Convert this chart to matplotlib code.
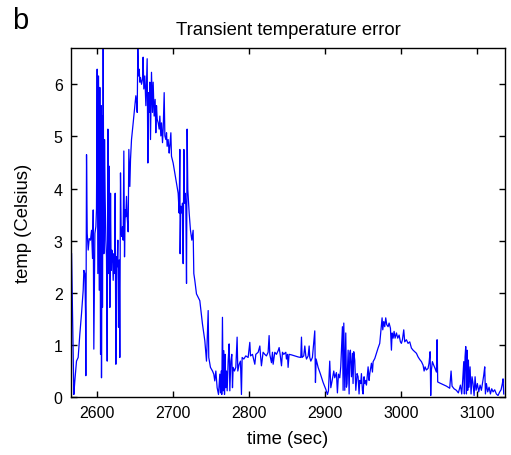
import matplotlib
matplotlib.use("Agg")
import matplotlib.pyplot as plt

# --- donnees ---
# partie 1 : montee bruitee et pic (2566 - 2736 s)
t_rise = [2566.7, 2569.7, 2571.0, 2573.2, 2575.4, 2577.6, 2579.8, 2582.0, 2582.9, 2584.2,
          2585.1, 2585.5, 2586.4, 2587.3, 2588.6, 2589.9, 2591.6, 2593.0, 2594.3, 2595.2,
          2596.0, 2597.4, 2598.7, 2599.5, 2600.4, 2601.3, 2602.2, 2603.1, 2603.9, 2604.8,
          2605.7, 2606.1, 2607.0, 2607.4, 2608.3, 2609.2, 2610.1, 2610.9, 2611.8, 2612.7,
          2613.6, 2614.5, 2615.3, 2616.2, 2617.1, 2618.0, 2618.8, 2619.7, 2620.6, 2621.5,
          2622.4, 2623.2, 2624.1, 2625.0, 2625.9, 2626.7, 2627.6, 2628.5, 2629.4, 2630.2,
          2631.1, 2632.0, 2632.9, 2633.8, 2634.6, 2635.5, 2636.4, 2637.3, 2638.1, 2639.0,
          2639.9, 2641.2, 2642.1, 2643.4, 2644.3, 2645.6, 2646.9, 2647.8, 2648.7, 2650.0,
          2651.3, 2652.2, 2653.1, 2653.9, 2654.8, 2655.7, 2656.6, 2657.4, 2658.8, 2660.1,
          2660.9, 2661.8, 2663.1, 2664.5, 2666.2, 2667.1, 2668.0, 2668.8, 2669.7, 2670.6,
          2671.9, 2673.2, 2674.1, 2675.4, 2676.7, 2677.6, 2678.5, 2679.4, 2680.7, 2682.0,
          2682.9, 2684.2, 2685.1, 2686.4, 2687.3, 2688.6, 2689.5, 2690.8, 2691.7, 2692.5,
          2693.8, 2695.2, 2696.0, 2697.4, 2698.2, 2700.4, 2702.6, 2704.8, 2707.0, 2708.3,
          2709.2, 2709.6, 2710.5, 2711.8, 2712.7, 2713.6, 2714.5, 2715.3, 2716.2, 2717.1,
          2718.0, 2718.8, 2719.7, 2721.5, 2723.2, 2725.0, 2726.7, 2727.6, 2728.9, 2731.1]
temp_rise = [2.75, 0.05, 0.31, 0.69, 0.76, 1.21, 1.60, 2.05, 2.43, 2.37,
             1.60, 0.41, 4.65, 3.14, 2.82, 3.04, 3.01, 3.20, 2.66, 3.59,
             0.92, 3.14, 3.27, 3.59, 6.29, 2.37, 6.16, 2.05, 5.94, 0.82,
             5.59, 0.37, 5.39, 1.72, 6.68, 2.75, 4.94, 3.85, 3.01, 2.69,
             0.69, 5.14, 2.37, 4.43, 1.72, 3.91, 2.43, 2.82, 2.69, 2.24,
             2.75, 2.37, 3.91, 0.63, 2.69, 2.50, 3.01, 1.34, 2.63, 0.76,
             4.30, 3.14, 3.08, 3.27, 3.01, 4.72, 2.69, 3.59, 3.46, 3.85,
             3.46, 3.17, 4.75, 4.04, 4.56, 4.94, 5.14, 5.26, 5.39, 5.59,
             5.78, 5.65, 5.46, 6.68, 6.16, 6.29, 6.04, 6.13, 6.00, 6.10,
             6.52, 5.91, 6.16, 5.59, 6.49, 4.49, 5.84, 5.46, 6.04, 4.94,
             6.23, 5.46, 6.04, 5.39, 5.71, 5.07, 5.59, 5.33, 5.26, 5.14,
             5.39, 5.01, 5.26, 4.88, 5.14, 5.84, 5.01, 4.94, 5.07, 4.81,
             4.94, 4.68, 4.81, 5.07, 4.62, 4.49, 4.30, 4.11, 3.91, 3.53,
             4.75, 2.75, 3.66, 3.53, 3.72, 2.56, 4.75, 3.72, 3.91, 3.66,
             2.18, 5.14, 3.98, 3.53, 3.20, 3.01, 3.20, 2.37, 2.24, 1.98]

# partie 2 : chute et plateau (2735 - 2920 s)
t_mid = [2735.5, 2739.0, 2742.1, 2744.3, 2746.5, 2747.3, 2749.5, 2752.2, 2753.9, 2755.2,
         2756.6, 2758.3, 2760.1, 2761.8, 2762.7, 2763.6, 2764.4, 2765.3, 2766.2, 2767.1,
         2768.0, 2768.8, 2769.7, 2770.6, 2771.5, 2772.8, 2774.1, 2775.0, 2776.3, 2777.6,
         2778.5, 2779.4, 2781.1, 2782.9, 2784.6, 2785.5, 2787.3, 2789.0, 2790.3, 2791.2,
         2793.4, 2796.0, 2799.1, 2801.3, 2802.2, 2804.8, 2807.9, 2809.2, 2812.3, 2814.5,
         2815.3, 2816.6, 2818.8, 2821.0, 2823.2, 2825.4, 2826.7, 2827.6, 2829.8, 2831.1,
         2832.0, 2834.2, 2836.4, 2838.6, 2839.9, 2841.2, 2843.0, 2844.3, 2846.0, 2848.7,
         2849.5, 2850.9, 2851.7, 2853.0, 2856.1, 2860.5, 2864.9, 2868.4, 2869.3, 2870.1,
         2872.3, 2873.7, 2875.0, 2875.9, 2878.1, 2879.4, 2880.2, 2881.6, 2883.7, 2886.8,
         2887.7, 2888.6, 2891.2, 2894.3, 2897.8, 2901.3, 2903.5, 2904.8, 2906.5, 2907.9,
         2909.6, 2911.8, 2913.1, 2915.3, 2916.6, 2918.0, 2919.7]
temp_mid = [1.85, 1.40, 1.08, 0.69, 1.66, 0.76, 0.57, 0.50, 0.44, 0.31,
            0.50, 0.18, 0.05, 0.44, 0.08, 0.50, 0.05, 1.53, 0.12, 0.89,
            0.05, 0.82, 0.18, 0.50, 0.12, 0.69, 1.02, 0.12, 0.69, 0.82,
            0.18, 0.57, 0.50, 0.57, 1.15, 0.50, 0.63, 0.69, 0.05, 0.76,
            0.73, 0.79, 0.76, 1.05, 0.79, 0.82, 0.63, 0.82, 0.86, 0.98,
            0.82, 0.60, 0.86, 0.82, 0.79, 0.86, 1.18, 0.82, 0.66, 0.86,
            0.63, 0.86, 0.82, 0.89, 0.95, 0.82, 0.60, 0.86, 0.82, 0.86,
            0.73, 0.82, 0.57, 0.82, 0.81, 0.79, 0.77, 0.76, 1.15, 0.76,
            0.79, 0.98, 0.79, 0.73, 0.79, 0.98, 0.76, 0.69, 0.76, 1.27,
            0.28, 0.73, 0.57, 0.44, 0.28, 0.15, 0.05, 0.12, 0.69, 0.18,
            0.31, 0.50, 0.37, 0.47, 0.08, 0.44, 0.37]

# partie 3 : fin (2920 - 3136 s)
t_end = [2921.0, 2921.9, 2923.2, 2924.1, 2925.0, 2926.3, 2927.6, 2928.5, 2929.3, 2930.7,
         2932.0, 2932.9, 2933.7, 2935.1, 2936.4, 2937.2, 2938.1, 2939.4, 2940.8, 2942.5,
         2943.8, 2945.1, 2946.0, 2947.3, 2948.2, 2949.5, 2950.4, 2951.7, 2952.6, 2953.9,
         2954.8, 2956.1, 2957.0, 2958.3, 2959.2, 2961.4, 2962.7, 2963.6, 2965.8, 2967.9,
         2970.1, 2972.3, 2973.6, 2974.5, 2975.4, 2976.3, 2977.6, 2978.9, 2980.2, 2981.5,
         2983.3, 2984.6, 2986.4, 2987.7, 2988.6, 2989.9, 2991.2, 2992.5, 2994.3, 2996.0,
         2997.8, 2999.5, 3000.8, 3002.2, 3003.9, 3005.2, 3007.4, 3009.6, 3011.8, 3014.0,
         3016.2, 3018.4, 3020.6, 3022.8, 3025.0, 3027.2, 3029.4, 3030.7, 3032.0, 3033.7,
         3035.9, 3037.2, 3038.6, 3039.4, 3040.3, 3041.6, 3043.4, 3045.1, 3046.9, 3047.8,
         3048.6, 3051.3, 3055.7, 3060.1, 3064.4, 3066.2, 3067.5, 3070.1, 3073.2, 3075.8,
         3078.5, 3080.2, 3081.5, 3082.9, 3083.7, 3084.6, 3085.5, 3086.4, 3087.2, 3088.1,
         3089.0, 3089.9, 3091.2, 3092.5, 3093.8, 3095.1, 3096.5, 3097.8, 3099.1, 3100.8,
         3102.6, 3104.4, 3106.1, 3107.5, 3109.2, 3110.5, 3111.4, 3112.7, 3114.4, 3116.2,
         3118.0, 3119.7, 3121.5, 3123.6, 3125.8, 3128.0, 3130.2, 3132.0, 3133.7, 3134.6,
         3135.5]
temp_end = [0.58, 0.90, 1.35, 0.13, 1.42, 0.13, 1.23, 0.19, 0.26, 0.90,
            0.06, 0.84, 0.90, 0.39, 0.84, 0.26, 0.87, 0.71, 0.13, 0.45,
            0.39, 0.06, 0.32, 0.26, 0.45, 0.13, 0.06, 0.39, 0.26, 0.32,
            0.23, 0.45, 0.58, 0.32, 0.45, 0.65, 0.48, 0.68, 0.74, 0.84,
            0.94, 1.03, 1.23, 1.39, 1.52, 1.29, 1.45, 1.35, 1.52, 1.39,
            1.35, 1.42, 1.32, 0.90, 1.23, 1.13, 1.26, 1.13, 1.23, 1.13,
            1.19, 1.06, 1.03, 1.10, 1.29, 1.06, 1.10, 1.03, 1.06, 0.94,
            0.90, 0.87, 0.84, 0.77, 0.72, 0.68, 0.61, 0.50, 0.58, 0.52,
            0.55, 0.65, 0.87, 0.03, 0.52, 0.68, 0.61, 0.55, 0.48, 1.10,
            0.29, 0.27, 0.24, 0.21, 0.17, 0.50, 0.21, 0.16, 0.13, 0.08,
            0.23, 0.06, 0.32, 0.68, 0.06, 0.77, 0.97, 0.06, 0.90, 0.13,
            0.71, 0.19, 0.58, 0.06, 0.39, 0.26, 0.03, 0.39, 0.13, 0.26,
            0.10, 0.23, 0.13, 0.26, 0.42, 0.58, 0.06, 0.26, 0.10, 0.19,
            0.06, 0.16, 0.10, 0.14, 0.06, 0.03, 0.10, 0.14, 0.26, 0.35,
            0.06]

x_ticks = [2600, 2700, 2800, 2900, 3000, 3100]
y_ticks = [0, 1, 2, 3, 4, 5, 6]

time = t_rise + t_mid + t_end
temp = temp_rise + temp_mid + temp_end

plt.rcParams['font.family'] = ['Liberation Sans', 'DejaVu Sans']

fig = plt.figure(figsize=(5.11, 4.56), dpi=100)
ax = fig.add_axes([0.139, 0.127, 0.849, 0.766])

ax.plot(time, temp, color='#0000ff', linewidth=0.9)

ax.set_xlim(2566, 3137)
ax.set_ylim(0, 6.7)
ax.set_xticks(x_ticks)
ax.set_yticks(y_ticks)
ax.tick_params(direction='in', top=True, right=True, length=4, width=1,
               labelsize=11.5, colors='black', pad=6)
for s in ax.spines.values():
    s.set_linewidth(1.0)

ax.set_title("Transient temperature error", fontsize=13.3, pad=10)
ax.set_xlabel("time (sec)", fontsize=13.3)
ax.set_ylabel("temp (Celsius)", fontsize=13.3)
# positions des labels (coord. axes)
ax.xaxis.set_label_coords(0.5, -0.095)
ax.yaxis.set_label_coords(-0.09, 0.5)
fig.text(0.024, 0.937, "b", fontsize=21)

fig.savefig("out.png", dpi=100)
